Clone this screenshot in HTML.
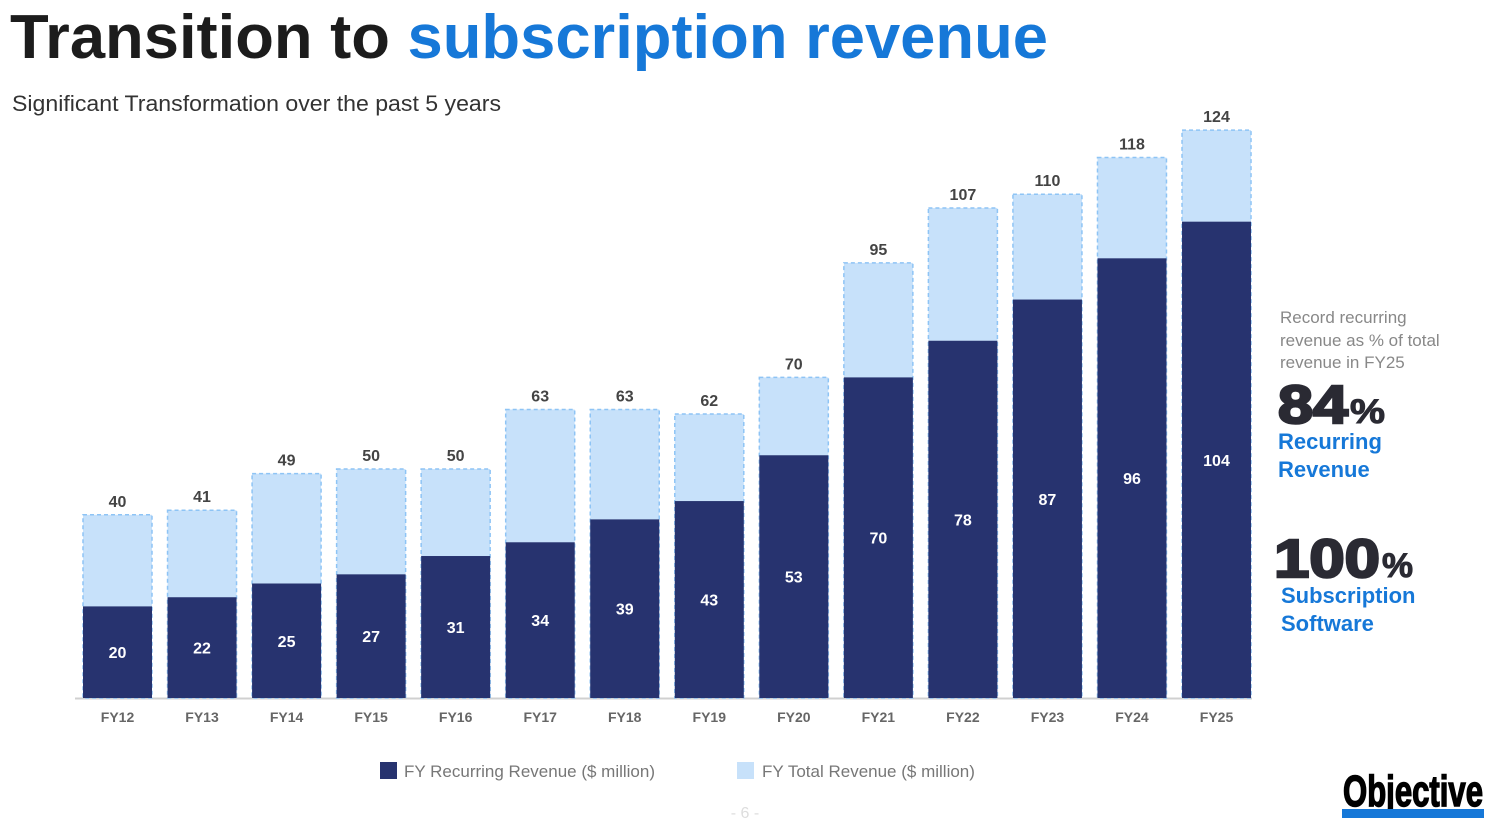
<!DOCTYPE html>
<html><head><meta charset="utf-8"><style>
html,body{margin:0;padding:0;background:#fff;}
svg{display:block;font-family:"Liberation Sans",Arial,sans-serif;}
</style></head><body>
<svg id="chart" width="1488" height="822" viewBox="0 0 1488 822" xmlns="http://www.w3.org/2000/svg">
<text x="10" y="58" font-size="62" font-weight="bold" fill="#1c1c1c" textLength="1038" lengthAdjust="spacingAndGlyphs">Transition to <tspan fill="#1678d8">subscription revenue</tspan></text>
<text x="12" y="111" font-size="22" fill="#333" textLength="489" lengthAdjust="spacingAndGlyphs">Significant Transformation over the past 5 years</text>
<line x1="75" y1="698.5" x2="1252" y2="698.5" stroke="#d0d0d0" stroke-width="2"/>
<g id="bars"></g>
<g>
<rect x="380" y="762" width="17" height="17" fill="#27336f"/>
<text x="404" y="777" font-size="17" fill="#777">FY Recurring Revenue ($ million)</text>
<rect x="737" y="762" width="17" height="17" fill="#c7e1fa"/>
<text x="762" y="777" font-size="17" fill="#777">FY Total Revenue ($ million)</text>
</g>
<g>
<text font-size="17" fill="#888"><tspan x="1280" y="323">Record recurring</tspan><tspan x="1280" y="346">revenue as % of total</tspan><tspan x="1280" y="368">revenue in FY25</tspan></text>
<text x="1278" y="423" font-size="54" font-weight="bold" fill="#2a2a33" stroke="#2a2a33" stroke-width="2.5" textLength="70" lengthAdjust="spacingAndGlyphs">84</text>
<text x="1350" y="423" font-size="34" font-weight="bold" fill="#2a2a33" stroke="#2a2a33" stroke-width="1" textLength="35" lengthAdjust="spacingAndGlyphs">%</text>
<text font-size="22" font-weight="bold" fill="#1678d8"><tspan x="1278" y="449">Recurring</tspan><tspan x="1278" y="477">Revenue</tspan></text>
<text x="1274" y="577" font-size="54" font-weight="bold" fill="#2a2a33" stroke="#2a2a33" stroke-width="2.5" textLength="106" lengthAdjust="spacingAndGlyphs">100</text>
<text x="1382" y="577" font-size="34" font-weight="bold" fill="#2a2a33" stroke="#2a2a33" stroke-width="1" textLength="31" lengthAdjust="spacingAndGlyphs">%</text>
<text font-size="22" font-weight="bold" fill="#1678d8"><tspan x="1281" y="603">Subscription</tspan><tspan x="1281" y="631">Software</tspan></text>
</g>
<text x="745" y="818" font-size="16" fill="#ddd" text-anchor="middle">- 6 -</text>
<g>
<text x="1413" y="806" font-size="44" font-weight="bold" fill="#000" stroke="#000" stroke-width="1.5" text-anchor="middle" textLength="140" lengthAdjust="spacingAndGlyphs" font-family="Liberation Sans Narrow,Liberation Sans,sans-serif">Objective</text>
<rect x="1342" y="809" width="142" height="9" fill="#1678d8"/>
</g>
</svg>
<script>
const categories=["FY12","FY13","FY14","FY15","FY16","FY17","FY18","FY19","FY20","FY21","FY22","FY23","FY24","FY25"];
const recurring=[20,22,25,27,31,34,39,43,53,70,78,87,96,104];
const total=[40,41,49,50,50,63,63,62,70,95,107,110,118,124];
const NS="http://www.w3.org/2000/svg";
const baseY=698, scale=4.58, x0=83, step=84.54, bw=69;
function y(v){return baseY-v*scale;}
function xPos(i){return x0+i*step;}
const g=document.getElementById('bars');
function mk(tag,attrs){const e=document.createElementNS(NS,tag);for(const k in attrs)e.setAttribute(k,attrs[k]);g.appendChild(e);return e;}
categories.forEach((c,i)=>{
  const x=xPos(i);
  const t=mk('rect',{x:x,y:y(total[i]),width:bw,height:baseY-y(total[i]),fill:'#c7e1fa',stroke:'#8ec4f5','stroke-width':1.5,'stroke-dasharray':'4 3'});
  
  
  const r=mk('rect',{x:x,y:y(recurring[i]),width:bw,height:baseY-y(recurring[i]),fill:'#27336f'});
  
  
  const tl=mk('text',{x:x+bw/2,y:y(total[i])-8,'font-size':16,'font-weight':'bold',fill:'#444','text-anchor':'middle'});
  tl.textContent=total[i];
  
  
  const rl=mk('text',{x:x+bw/2,y:(y(recurring[i])+baseY)/2+6,'font-size':16,'font-weight':'bold',fill:'#fff','text-anchor':'middle'});
  rl.textContent=recurring[i];
  
  
  const xl=mk('text',{x:x+bw/2,y:722,'font-size':14,'font-weight':'bold',fill:'#666','text-anchor':'middle'});
  xl.textContent=c;
  
  
});
</script>
</body></html>
